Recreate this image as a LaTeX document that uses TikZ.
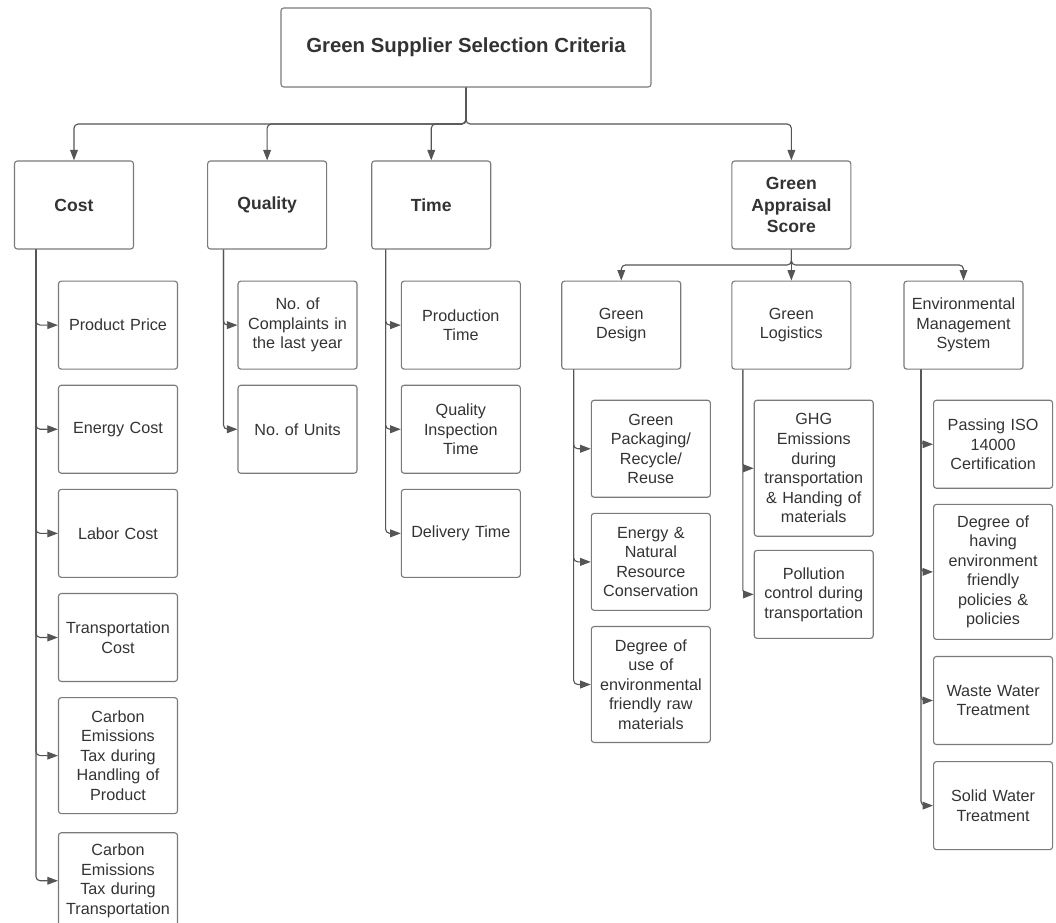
\documentclass[tikz,border=0pt]{standalone}
\usepackage{fontspec}
\setmainfont{Liberation Sans}
\usetikzlibrary{arrows.meta, positioning}
\definecolor{boxgray}{HTML}{7A7A7A}
\definecolor{linegray}{HTML}{555555}
\definecolor{textgray}{HTML}{333333}
\tikzset{
    box/.style = {draw=boxgray, rounded corners=2pt, line width=0.8pt, text=textgray, align=center, minimum width=2.975cm, minimum height=2.2cm, inner sep=2pt},
    head/.style = {box, font=\fontsize{12.5}{15}\selectfont\bfseries},
    sub/.style = {box, font=\fontsize{11.5}{13.9}\selectfont},
    item/.style = {sub, text width=2.8cm},
    link/.style = {draw=linegray, line width=0.8pt, rounded corners=3pt, -{Triangle[length=7.5pt,width=5.5pt]}}
}

\begin{document}
\begin{tikzpicture}[node distance=0.375cm, >=Triangle]
    \useasboundingbox (0,0) rectangle (26.4,-23.05);
    % Nodos
    \node [box, minimum width=9.25cm, minimum height=1.975cm, font=\fontsize{14.5}{17}\selectfont\bfseries] (top) at (11.65,-1.1875) {Green Supplier Selection Criteria};
    \node [head] (cost) at (1.85,-5.125) {Cost};
    \node [head, right=1.825cm of cost] (quality) {Quality};
    \node [head, right=1.1cm of quality] (time) {Time};
    \node [head, right=6cm of time] (gas) {Green\\Appraisal\\Score};
    \node [sub, below=0.775cm of gas] (gl) {Green\\Logistics};
    \node [sub, left=1.25cm of gl] (gd) {Green\\Design};
    \node [sub, right=1.3cm of gl] (ems) {Environmental\\Management\\System};
    % Cost
    \node [item, anchor=north west] (c1) at ([xshift=1.1cm,yshift=-0.775cm]cost.south west) {Product Price};
    \node [item, below=of c1] (c2) {Energy Cost};
    \node [item, below=of c2] (c3) {Labor Cost};
    \node [item, below=of c3] (c4) {Transportation\\Cost};
    \node [item, below=of c4, minimum height=2.9cm] (c5) {Carbon\\Emissions\\Tax during\\Handling of\\Product};
    \node [item, below=0.45cm of c5, minimum height=2.4cm] (c6) {Carbon\\Emissions\\Tax during\\Transportation};
    % Quality
    \node [item, anchor=north west] (q1) at ([xshift=0.76cm,yshift=-0.775cm]quality.south west) {No.\ of\\Complaints in\\the last year};
    \node [item, below=of q1] (q2) {No.\ of Units};
    % Time
    \node [item, anchor=north west] (t1) at ([xshift=0.74cm,yshift=-0.775cm]time.south west) {Production\\Time};
    \node [item, below=of t1] (t2) {Quality\\Inspection\\Time};
    \node [item, below=of t2] (t3) {Delivery Time};
    % Green Design
    \node [item, anchor=north west, minimum height=2.425cm] (d1) at ([xshift=0.74cm,yshift=-0.75cm]gd.south west) {Green\\Packaging/\\Recycle/\\Reuse};
    \node [item, below=of d1, minimum height=2.425cm] (d2) {Energy \&\\Natural\\Resource\\Conservation};
    \node [item, below=of d2, minimum height=2.9cm] (d3) {Degree of\\use of\\environmental\\friendly raw\\materials};
    % Green Logistics
    \node [item, anchor=north west, minimum height=3.4cm] (l1) at ([xshift=0.56cm,yshift=-0.75cm]gl.south west) {GHG\\Emissions\\during\\transportation\\\& Handing of\\materials};
    \node [item, below=0.325cm of l1] (l2) {Pollution\\control during\\transportation};
    % Environmental Management System
    \node [item, anchor=north west] (e1) at ([xshift=0.74cm,yshift=-0.75cm]ems.south west) {Passing ISO\\14000\\Certification};
    \node [item, below=of e1, minimum height=3.375cm] (e2) {Degree of\\having\\environment\\friendly\\policies \&\\policies};
    \node [item, below=0.4cm of e2] (e3) {Waste Water\\Treatment};
    \node [item, below=0.4cm of e3] (e4) {Solid Water\\Treatment};
    % Flechas
    \coordinate (bus) at (0,-3.1);
    \foreach \n in {cost,quality,time,gas}
        \draw [link] (top.south) -- (top.south |- bus) -| (\n.north);
    \coordinate (gbus) at (0,-6.625);
    \foreach \n in {gd,ems}
        \draw [link] (gas.south) -- (gas.south |- gbus) -| (\n.north);
    \draw [link] (gas) -- (gl);
    \foreach \n in {c1,c2,c3,c4,c5,c6}
        \draw [link] ([xshift=0.55cm]cost.south west) |- (\n.west);
    \foreach \n in {q1,q2}
        \draw [link] ([xshift=0.41cm]quality.south west) |- (\n.west);
    \foreach \n in {t1,t2,t3}
        \draw [link] ([xshift=0.36cm]time.south west) |- (\n.west);
    \foreach \n in {d1,d2,d3}
        \draw [link] ([xshift=0.31cm]gd.south west) |- (\n.west);
    \foreach \n in {l1,l2}
        \draw [link] ([xshift=0.29cm]gl.south west) |- (\n.west);
    \foreach \n in {e1,e2,e3,e4}
        \draw [link] ([xshift=0.44cm]ems.south west) |- (\n.west);
\end{tikzpicture}
\end{document}
